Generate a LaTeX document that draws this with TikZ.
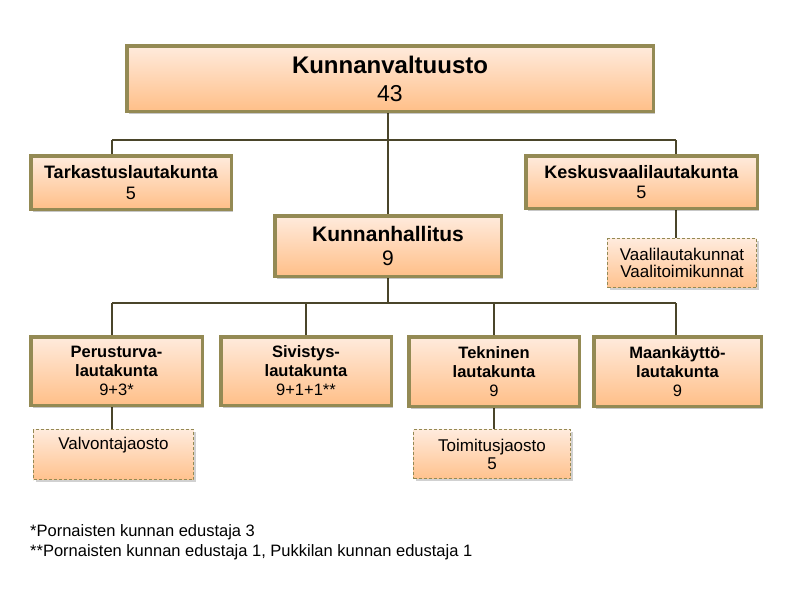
\documentclass[tikz,border=0pt]{standalone}
\usepackage{fontspec}
\setmainfont{Liberation Sans}
\usetikzlibrary{shadows,backgrounds}
\definecolor{orgolive}{HTML}{948A54}
\definecolor{orgline}{HTML}{4A452A}
\definecolor{orgtop}{HTML}{FFEBDD}
\definecolor{orgbottom}{HTML}{FFBF88}

\begin{document}
\begin{tikzpicture}[x=1pt,y=-1pt]
  \tikzstyle{board}=[draw=orgolive, line width=3.5pt, top color=orgtop, bottom color=orgbottom, align=center, inner sep=0pt,
    drop shadow={shadow xshift=2pt, shadow yshift=-2.5pt, fill=black, opacity=0.22}]
  \tikzstyle{section}=[draw=orgolive, line width=1pt, dash pattern=on 3pt off 2pt, top color=orgtop, bottom color=orgbottom!95, align=center, inner sep=0pt,
    drop shadow={shadow xshift=2pt, shadow yshift=-2pt, fill=black, opacity=0.18}]
  \tikzstyle{link}=[draw=orgline, line width=2pt]
  \tikzstyle{note}=[font=\fontsize{16.5}{20}\selectfont, anchor=base west, inner sep=0pt]

  \path[use as bounding box] (0,0) rectangle (801,603);

  \node[board, minimum width=526.5pt, minimum height=65.5pt, font=\fontsize{23}{28}\selectfont] (valtuusto) at (390,78.5)
    {\textbf{\fontsize{24}{28}\selectfont Kunnanvaltuusto}\\43};
  \node[board, minimum width=200.5pt, minimum height=53.5pt, font=\fontsize{18}{20.5}\selectfont] (tarkastus) at (131,182.5)
    {\textbf{Tarkastuslautakunta}\\5};
  \node[board, minimum width=231.5pt, minimum height=52.5pt, font=\fontsize{18}{20.5}\selectfont] (keskus) at (641.5,182)
    {\textbf{Keskusvaalilautakunta}\\5};
  \node[board, minimum width=226.5pt, minimum height=60.5pt, font=\fontsize{21}{24.5}\selectfont] (hallitus) at (388,246)
    {\textbf{Kunnanhallitus}\\9};
  \node[section, minimum width=149pt, minimum height=49pt, font=\fontsize{17}{17.5}\selectfont] (vaali) at (682,263)
    {Vaalilautakunnat\\Vaalitoimikunnat};

  \node[board, minimum width=171.5pt, minimum height=68.5pt, font=\fontsize{16.5}{19}\selectfont] (perus) at (116.5,371)
    {\textbf{Perusturva-}\\\textbf{lautakunta}\\9+3*};
  \node[board, minimum width=170.5pt, minimum height=68.5pt, font=\fontsize{16.5}{19}\selectfont] (sivistys) at (306,371)
    {\textbf{Sivistys-}\\\textbf{lautakunta}\\9+1+1**};
  \node[board, minimum width=170.5pt, minimum height=69.5pt, font=\fontsize{16.5}{19}\selectfont] (tekninen) at (494,371.5)
    {\textbf{Tekninen}\\\textbf{lautakunta}\\9};
  \node[board, minimum width=167.5pt, minimum height=69.5pt, font=\fontsize{16.5}{19}\selectfont] (maankaytto) at (677.5,371.5)
    {\textbf{Maankäyttö-}\\\textbf{lautakunta}\\9};

  \node[section, minimum width=160pt, minimum height=50pt, font=\fontsize{17}{18}\selectfont, text depth=22pt] (valvonta) at (113.5,454.5)
    {Valvontajaosto};
  \node[section, minimum width=157pt, minimum height=49pt, font=\fontsize{17}{18}\selectfont] (toimitus) at (492,454)
    {Toimitusjaosto\\5};

  \node[note] (note1) at (30,536) {*Pornaisten kunnan edustaja 3};
  \node[note] (note2) at (30,556) {**Pornaisten kunnan edustaja 1, Pukkilan kunnan edustaja 1};

  \coordinate (busA) at (112,140);
  \coordinate (busB) at (676,140);
  \coordinate (busC) at (112,303);
  \coordinate (busD) at (676,303);

  \begin{scope}[on background layer]
    \draw[link] (valtuusto.south -| hallitus.north) -- (hallitus.north);
    \draw[link] (busA) -- (busB);
    \draw[link] (busA) -- (busA |- tarkastus.north);
    \draw[link] (busB) -- (busB |- keskus.north);
    \draw[link] (keskus.south -| busB) -- (vaali.north -| busB);

    \draw[link] (hallitus.south) -- (hallitus.south |- busC);
    \draw[link] (busC) -- (busD);
    \draw[link] (busC) -- (busC |- perus.north);
    \draw[link] (sivistys.north |- busC) -- (sivistys.north);
    \draw[link] (tekninen.north |- busC) -- (tekninen.north);
    \draw[link] (busD) -- (busD |- maankaytto.north);

    \draw[link] (perus.south -| busC) -- (valvonta.north -| busC);
    \draw[link] (tekninen.south) -- (tekninen.south |- toimitus.north);
  \end{scope}
\end{tikzpicture}
\end{document}
